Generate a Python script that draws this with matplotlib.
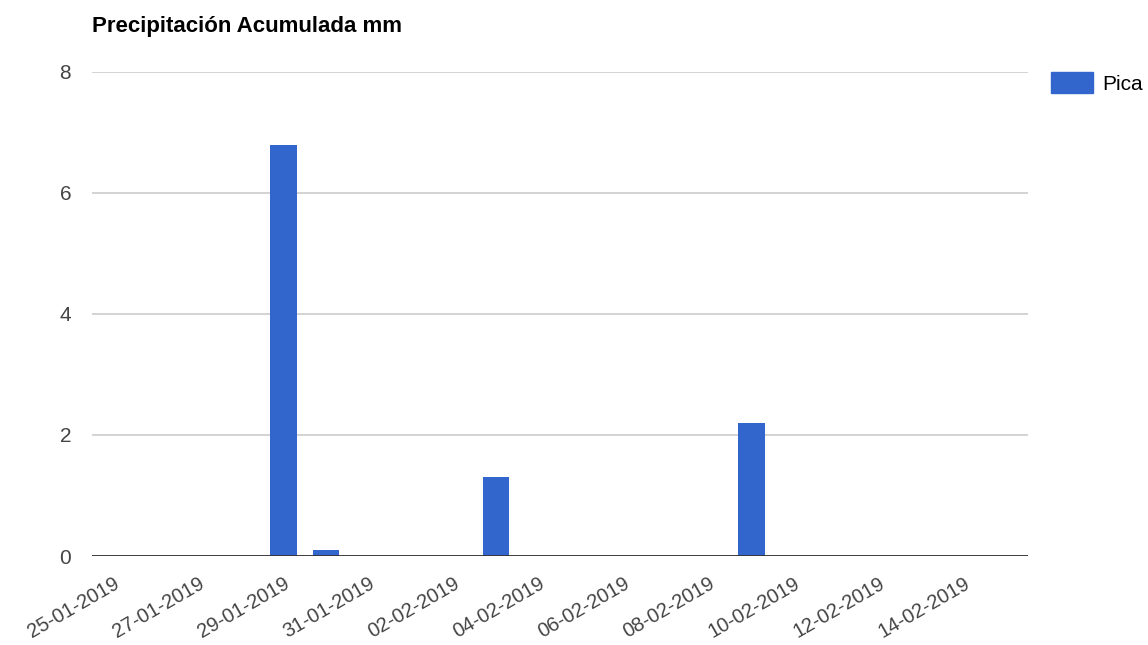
import matplotlib.pyplot as plt
from matplotlib.patches import Patch

# daily dates shown on the category axis
dates = ["25-01-2019", "26-01-2019", "27-01-2019", "28-01-2019", "29-01-2019",
         "30-01-2019", "31-01-2019", "01-02-2019", "02-02-2019", "03-02-2019",
         "04-02-2019", "05-02-2019", "06-02-2019", "07-02-2019", "08-02-2019",
         "09-02-2019", "10-02-2019", "11-02-2019", "12-02-2019", "13-02-2019",
         "14-02-2019", "15-02-2019"]
# accumulated precipitation for Pica (mm)
pica = [0, 0, 0, 0, 6.8, 0.1, 0, 0, 0, 1.3, 0, 0, 0, 0, 0, 2.2, 0, 0, 0, 0, 0, 0]
y_ticks = [0, 2, 4, 6, 8]

plt.rcParams['font.family'] = ['Liberation Sans', 'DejaVu Sans']

W, H = 1148, 645
fig = plt.figure(figsize=(W / 100, H / 100), dpi=100)
ax = fig.add_axes([92 / W, 89 / H, (1028 - 92) / W, (556 - 72) / H])

xs = list(range(len(dates)))
ax.bar(xs, pica, width=0.62, color="#3366cc", zorder=3)

ax.set_xlim(-0.5, len(dates) - 0.5)
ax.set_ylim(0, 8)
ax.set_yticks(y_ticks)
ax.set_yticklabels([str(t) for t in y_ticks], fontsize=15, color="#444444")
ax.yaxis.grid(True, color="#cccccc", linewidth=1.2, zorder=0)
ax.axhline(0, color="#333333", linewidth=1.3, zorder=4)

# every other date gets a label
ax.set_xticks(xs[::2])
ax.set_xticklabels(dates[::2], rotation=30, ha="right", rotation_mode="anchor",
                   fontsize=14.5, color="#444444")
ax.tick_params(axis="both", length=0)
ax.tick_params(axis="y", pad=15)
ax.tick_params(axis="x", pad=13)
for s in ax.spines.values():
    s.set_visible(False)

fig.text(92 / W, 1 - 32 / H, "Precipitación Acumulada mm", fontsize=16,
         fontweight="bold", color="#000000", ha="left", va="baseline")

fig.legend(handles=[Patch(color="#3366cc", label="Pica")], loc="upper left",
           bbox_to_anchor=(1051 / W, 1 - 72 / H), frameon=False, fontsize=15,
           handlelength=2.0, handleheight=1.2, handletextpad=0.45, borderpad=0,
           borderaxespad=0)

fig.savefig("out.png", dpi=100)
